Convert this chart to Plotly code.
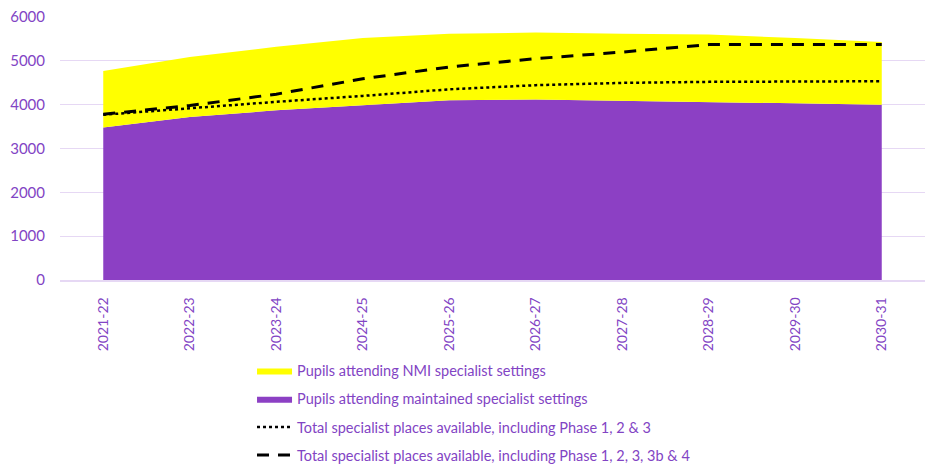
import plotly.graph_objects as go

years = ["2021-22", "2022-23", "2023-24", "2024-25", "2025-26",
         "2026-27", "2027-28", "2028-29", "2029-30", "2030-31"]
maintained = [3480, 3720, 3870, 3990, 4100, 4120, 4085, 4060, 4030, 4000]
nmi = [1290, 1370, 1450, 1530, 1520, 1525, 1535, 1540, 1490, 1430]
places_123 = [3770, 3920, 4065, 4200, 4350, 4445, 4497, 4520, 4530, 4535]
places_1234 = [3780, 3980, 4240, 4590, 4860, 5050, 5200, 5370, 5370, 5370]

PURPLE = "#8C40C4"
YELLOW = "#FFFF00"
TEXT = "#8244C4"
GRID = "#E6D8F4"

fig = go.Figure()
fig.add_trace(go.Scatter(
    x=years, y=maintained, name="Pupils attending maintained specialist settings",
    stackgroup="s", mode="lines", line=dict(width=0, color=PURPLE),
    fillcolor=PURPLE, legendrank=2, legendgroup="b"))
fig.add_trace(go.Scatter(
    x=years, y=nmi, name="Pupils attending NMI specialist settings",
    stackgroup="s", mode="lines", line=dict(width=0, color=YELLOW),
    fillcolor=YELLOW, legendrank=1, legendgroup="a"))
fig.add_trace(go.Scatter(
    x=years, y=places_123, name="Total specialist places available, including Phase 1, 2 & 3",
    mode="lines", line=dict(color="black", width=2.5, dash="dot"),
    legendrank=3, legendgroup="c"))
fig.add_trace(go.Scatter(
    x=years, y=places_1234, name="Total specialist places available, including Phase 1, 2, 3, 3b & 4",
    mode="lines", line=dict(color="black", width=3, dash="12px,9px"),
    legendrank=4, legendgroup="d"))

fig.update_layout(
    width=926, height=466,
    margin=dict(l=60, r=1, t=17, b=186, autoexpand=False),
    paper_bgcolor="white", plot_bgcolor="white",
    font=dict(family="Lato, Open Sans, sans-serif", color=TEXT, size=14.5),
    showlegend=True,
    legend=dict(
        orientation="v", x=0.222, xanchor="left", y=-0.284, yanchor="top",
        font=dict(size=14.5, color=TEXT), tracegroupgap=6.3, itemwidth=35,
        bgcolor="rgba(0,0,0,0)"),
    xaxis=dict(
        type="category", range=[-0.5, 9.5], tickangle=-90,
        showgrid=False, showline=True, linecolor=GRID, linewidth=1.5,
        ticks="", tickfont=dict(size=14, color=TEXT), ticklabelstandoff=10,
        automargin=False),
    yaxis=dict(
        range=[0, 6000], dtick=1000, showgrid=True, gridcolor=GRID, gridwidth=1,
        zeroline=False, showline=False, ticks="", tickfont=dict(size=15, color=TEXT),
        ticklabelstandoff=14, automargin=False),
)

fig.write_html("out.html")
